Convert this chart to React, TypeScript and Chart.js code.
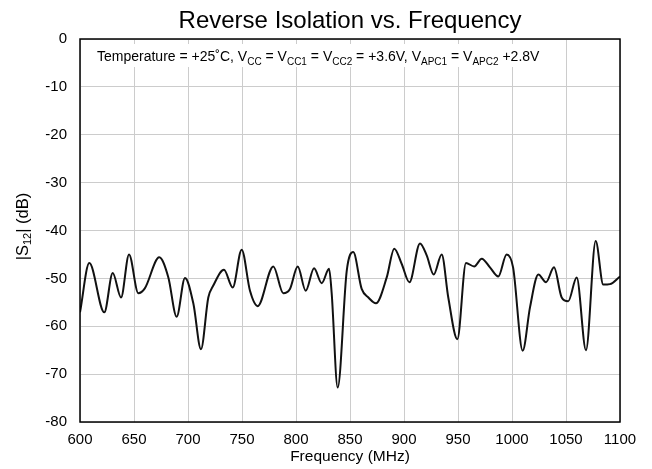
import React, { useEffect, useRef } from "react";
import { Chart, registerables } from "chart.js";

Chart.register(...registerables);

const FONT = "'Liberation Sans', Arial, sans-serif";

const chartTitle = "Reverse Isolation vs. Frequency";
const xAxisTitle = "Frequency (MHz)";
const xMin = 600;
const xMax = 1100;
const xStep = 50;
const yMin = -80;
const yMax = 0;
const yStep = 10;

// Frequency (MHz)
const freqs = [
  600, 608.6, 622.5, 630.3, 638, 645.4, 654, 660, 673.4, 681.8, 689.5, 697.2,
  705, 712, 718.8, 723.4, 733.3, 741.4, 749.7, 757.4, 764.5, 779, 788.2, 794.4,
  801.6, 809, 816.7, 823.8, 830.6, 833, 838.6, 847, 853, 860.8, 867, 874, 884,
  891, 897.9, 905, 914.8, 921, 927.5, 934.9, 941, 949.4, 957.4, 965, 972, 979.6,
  987.3, 995, 1001, 1009.9, 1016.7, 1024.4, 1031.5, 1038.9, 1046, 1052, 1059.9,
  1068.5, 1077.5, 1084.5, 1090.7, 1100,
];
// |S12| (dB)
const s12 = [
  -57.1, -46.8, -57.1, -48.9, -54, -45, -53.1, -52.1, -45.6, -49.8, -58, -49.9,
  -55.3, -64.8, -54, -51.5, -48.2, -51.9, -44, -52.6, -55.8, -47.5, -53.1, -52.2,
  -47.5, -52.6, -47.9, -51, -48, -53, -72.8, -48.4, -44.5, -52.2, -54, -55.2, -49.8,
  -43.8, -47, -50.8, -42.7, -45.2, -49.2, -45, -54, -62.7, -46.8, -47.5, -45.9, -47.7,
  -49.6, -45, -47.7, -65.1, -56, -49.2, -50.8, -47.7, -54, -54.8, -49.8,
  -65, -42.2, -51.3, -51.2, -49.6,
];

type Part = { t: string; sub?: boolean };

const noteParts: Part[] = [
  { t: "Temperature = +25˚C, V" },
  { t: "CC", sub: true },
  { t: " = V" },
  { t: "CC1", sub: true },
  { t: " = V" },
  { t: "CC2", sub: true },
  { t: " = +3.6V, V" },
  { t: "APC1", sub: true },
  { t: " = V" },
  { t: "APC2", sub: true },
  { t: " +2.8V" },
];

const yTitleParts: Part[] = [
  { t: "|S" },
  { t: "12", sub: true },
  { t: "| (dB)" },
];

function richWidth(ctx: CanvasRenderingContext2D, parts: Part[], size: number, subSize: number) {
  let w = 0;
  for (const p of parts) {
    ctx.font = `${p.sub ? subSize : size}px ${FONT}`;
    w += ctx.measureText(p.t).width;
  }
  return w;
}

function drawRich(
  ctx: CanvasRenderingContext2D,
  parts: Part[],
  x: number,
  y: number,
  size: number,
  subSize: number,
  subShift: number
) {
  let cx = x;
  ctx.textBaseline = "alphabetic";
  ctx.textAlign = "left";
  for (const p of parts) {
    ctx.font = `${p.sub ? subSize : size}px ${FONT}`;
    ctx.fillText(p.t, cx, p.sub ? y + subShift : y);
    cx += ctx.measureText(p.t).width;
  }
}

const decorPlugin = {
  id: "decor",
  beforeDatasetsDraw(chart: any) {
    const ctx: CanvasRenderingContext2D = chart.ctx;
    const area = chart.chartArea;
    ctx.save();
    const w = richWidth(ctx, noteParts, 14, 10);
    const x0 = area.left + 17;
    ctx.fillStyle = "#ffffff";
    ctx.fillRect(x0 - 8, area.top + 5, w + 16, 23);
    ctx.fillStyle = "#000000";
    drawRich(ctx, noteParts, x0, area.top + 22, 14, 10, 3.5);
    ctx.restore();
  },
  afterDraw(chart: any) {
    const ctx: CanvasRenderingContext2D = chart.ctx;
    const area = chart.chartArea;
    ctx.save();
    // frame
    ctx.strokeStyle = "#000000";
    ctx.lineWidth = 1.5;
    ctx.strokeRect(area.left, area.top, area.right - area.left, area.bottom - area.top);
    // title
    ctx.fillStyle = "#000000";
    ctx.font = `24px ${FONT}`;
    ctx.textAlign = "center";
    ctx.textBaseline = "alphabetic";
    ctx.fillText(chartTitle, (area.left + area.right) / 2, 28);
    // y title (rotated)
    const tw = richWidth(ctx, yTitleParts, 16.5, 11);
    ctx.translate(27.5, (area.top + area.bottom) / 2 - 4);
    ctx.rotate(-Math.PI / 2);
    drawRich(ctx, yTitleParts, -tw / 2, 0, 16.5, 11, 3.5);
    ctx.restore();
  },
};

export default function App() {
  const ref = useRef<HTMLCanvasElement | null>(null);

  useEffect(() => {
    if (!ref.current) return;
    const points = freqs.map((f, i) => ({ x: f, y: s12[i] }));
    const chart = new Chart(ref.current, {
      type: "line",
      data: {
        datasets: [
          {
            data: points,
            borderColor: "#111111",
            borderWidth: 2,
            pointRadius: 0,
            cubicInterpolationMode: "monotone",
            fill: false,
          },
        ],
      },
      options: {
        animation: false,
        responsive: true,
        maintainAspectRatio: false,
        layout: { padding: { top: 39, right: 32, left: 0, bottom: 0 } },
        plugins: {
          legend: { display: false },
          tooltip: { enabled: false },
          title: { display: false },
        },
        scales: {
          x: {
            type: "linear",
            min: xMin,
            max: xMax,
            grid: { color: "#cccccc", lineWidth: 1, drawTicks: false },
            border: { display: false },
            ticks: {
              stepSize: xStep,
              color: "#000000",
              font: { family: FONT, size: 15 },
              padding: 9,
              maxRotation: 0,
              autoSkip: false,
              callback: (v: any) => String(v),
            },
            title: {
              display: true,
              text: xAxisTitle,
              color: "#000000",
              font: { family: FONT, size: 15.5 },
              padding: { top: 0, bottom: 3 },
            },
            afterFit: (s: any) => {
              s.height = 47;
            },
          },
          y: {
            min: yMin,
            max: yMax,
            grid: { color: "#cccccc", lineWidth: 1, drawTicks: false },
            border: { display: false },
            ticks: {
              stepSize: yStep,
              color: "#000000",
              font: { family: FONT, size: 15 },
              padding: 13,
              callback: (v: any) => String(v),
            },
            afterFit: (s: any) => {
              s.width = 80;
            },
          },
        },
      },
      plugins: [decorPlugin],
    } as any);
    return () => chart.destroy();
  }, []);

  return (
    <div style={{ position: "absolute", left: 0, top: 0, width: 652, height: 469, background: "#fff" }}>
      <canvas ref={ref} />
    </div>
  );
}
